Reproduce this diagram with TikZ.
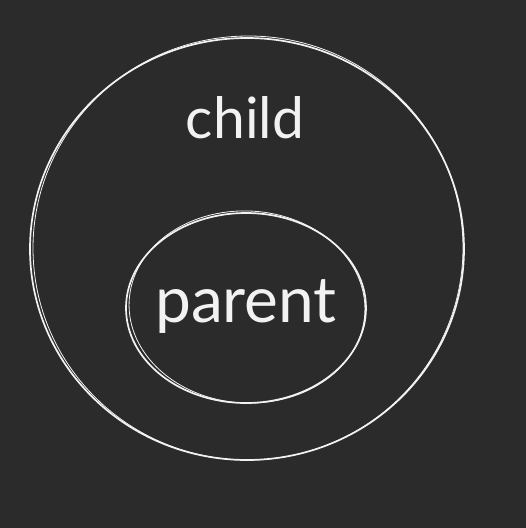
\documentclass[tikz,border=0pt]{standalone}
\usepackage{fontspec}
\setmainfont{Lato}
\usetikzlibrary{shapes.geometric}
\definecolor{board}{HTML}{2B2B2B}
\definecolor{chalk}{HTML}{F2F2F2}

\begin{document}
\begin{tikzpicture}[x=1pt, y=-1pt,
	sketch/.style={draw=chalk, ellipse, line width=1.7pt, inner sep=0pt},
	trace/.style={sketch, line width=0.8pt},
	word/.style={text=chalk, anchor=base, inner sep=0pt}]
	\fill[board] (0,0) rectangle (526,528);
	\useasboundingbox (0,0) rectangle (526,528);
	% outer ring, drawn twice for the hand-made look
	\node[sketch, minimum width=434pt, minimum height=422pt] (child) at (247,249) {};
	\node[trace, minimum width=430pt, minimum height=424pt, rotate=3] (childtrace) at (248,248) {};
	% inner ring
	\node[sketch, minimum width=240pt, minimum height=190pt] (parent) at (246,308) {};
	\node[trace, minimum width=236pt, minimum height=192pt, rotate=-3] (parenttrace) at (247,307) {};
	\node[word, font=\fontsize{57}{57}\selectfont] (childlabel) at (245,138) {child};
	\node[word, font=\fontsize{64}{64}\selectfont] (parentlabel) at (246,322) {parent};
\end{tikzpicture}
\end{document}
